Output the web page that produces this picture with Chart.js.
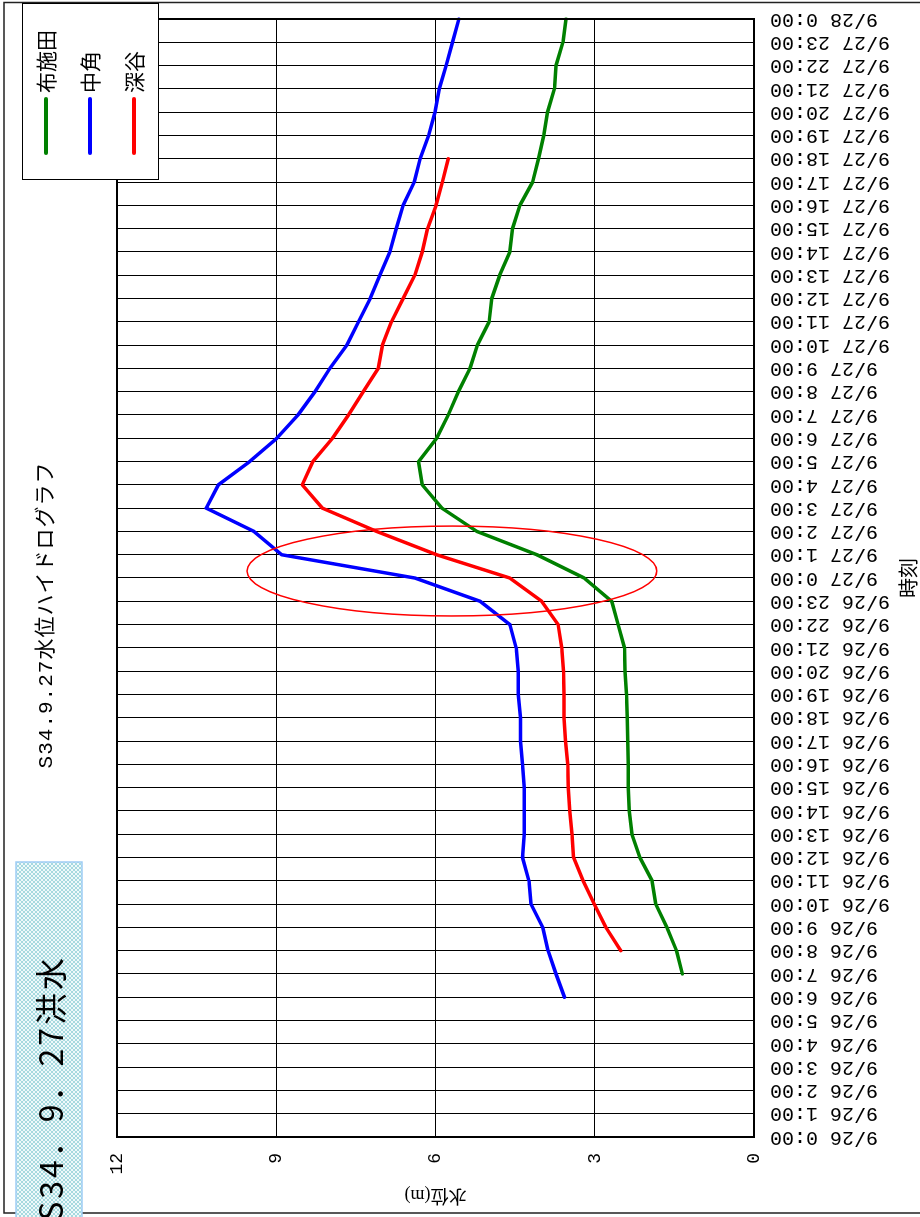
<!DOCTYPE html>
<html>
<head>
<meta charset="utf-8">
<script src="https://cdn.jsdelivr.net/npm/chart.js@4/dist/chart.umd.min.js"></script>
<style>
  html, body { margin: 0; padding: 0; background: #fff; overflow: hidden; width: 920px; height: 1217px; }
  /* the sheet is printed sideways: draw it landscape, then turn it a quarter left */
  #wrap { position: absolute; left: 0; top: 0; width: 1217px; height: 920px;
          transform-origin: 0 0; transform: translateY(1217px) rotate(-90deg); }
</style>
</head>
<body>
<div id="wrap"><canvas id="myChart" width="1217" height="920"></canvas></div>
<script>
const hours = [
  '9/26 0:00', '9/26 1:00', '9/26 2:00', '9/26 3:00', '9/26 4:00', '9/26 5:00',
  '9/26 6:00', '9/26 7:00', '9/26 8:00', '9/26 9:00', '9/26 10:00', '9/26 11:00',
  '9/26 12:00', '9/26 13:00', '9/26 14:00', '9/26 15:00', '9/26 16:00', '9/26 17:00',
  '9/26 18:00', '9/26 19:00', '9/26 20:00', '9/26 21:00', '9/26 22:00', '9/26 23:00',
  '9/27 0:00', '9/27 1:00', '9/27 2:00', '9/27 3:00', '9/27 4:00', '9/27 5:00',
  '9/27 6:00', '9/27 7:00', '9/27 8:00', '9/27 9:00', '9/27 10:00', '9/27 11:00',
  '9/27 12:00', '9/27 13:00', '9/27 14:00', '9/27 15:00', '9/27 16:00', '9/27 17:00',
  '9/27 18:00', '9/27 19:00', '9/27 20:00', '9/27 21:00', '9/27 22:00', '9/27 23:00',
  '9/28 0:00'
];

// 布施田
const fuseda = [
  null, null, null, null, null, null, null, 1.35, 1.46, 1.64, 1.85, 1.92,
  2.15, 2.30, 2.35, 2.37, 2.37, 2.38, 2.39, 2.40, 2.43, 2.44, 2.56, 2.68,
  3.20, 4.09, 5.22, 5.88, 6.25, 6.32, 5.98, 5.76, 5.57, 5.35, 5.21, 4.99,
  4.94, 4.79, 4.60, 4.55, 4.41, 4.17, 4.06, 3.96, 3.89, 3.76, 3.73, 3.60,
  3.54
];
// 中角
const nakasumi = [
  null, null, null, null, null, null, 3.57, 3.73, 3.88, 3.98, 4.20, 4.24,
  4.36, 4.33, 4.33, 4.33, 4.36, 4.40, 4.40, 4.44, 4.44, 4.48, 4.60, 5.16,
  6.39, 8.90, 9.42, 10.32, 10.09, 9.50, 8.99, 8.59, 8.27, 7.99, 7.67, 7.45,
  7.23, 7.05, 6.86, 6.74, 6.61, 6.40, 6.29, 6.13, 6.01, 5.93, 5.80, 5.68,
  5.56
];
// 深谷
const fukaya = [
  null, null, null, null, null, null, null, null, 2.51, 2.79, 3.01, 3.22,
  3.40, 3.43, 3.47, 3.50, 3.51, 3.55, 3.58, 3.58, 3.59, 3.62, 3.69, 4.00,
  4.60, 5.98, 7.11, 8.13, 8.51, 8.31, 7.94, 7.64, 7.36, 7.08, 7.00, 6.83,
  6.61, 6.39, 6.25, 6.15, 5.99, 5.87, 5.76, null, null, null, null, null,
  null
];

const levelTicks = [0, 3, 6, 9, 12];

// hand drawn ring round the peak (hour index, level, and radii in those units)
const ring = { hour: 24.3, level: 5.69, hourR: 1.93, levelR: 3.86 };

const serif = '"Liberation Serif", "Noto Sans CJK JP"';
const mono = '"Liberation Mono", "Noto Sans CJK JP"';

Chart.defaults.color = '#000';

// small cross hatch for the caption box
const hatch = document.createElement('canvas');
hatch.width = 4; hatch.height = 4;
(() => {
  const h = hatch.getContext('2d');
  h.fillStyle = '#eef9fa';
  h.fillRect(0, 0, 4, 4);
  h.fillStyle = '#a6d9df';
  for (let i = 0; i < 4; i++) {
    h.fillRect(i, i, 1, 1);
    h.fillRect(3 - i, i, 1, 1);
  }
})();

// text turned a quarter left on the page (reads bottom to top)
function upText(c, str, x, y, font, align, spacing) {
  c.save();
  c.translate(x, y);
  c.rotate(-Math.PI / 2);
  c.font = font;
  if (spacing) c.letterSpacing = spacing;
  c.fillStyle = '#000';
  c.textAlign = align;
  c.textBaseline = 'middle';
  c.fillText(str, 0, 0);
  c.restore();
}

const sheet = {
  id: 'sheet',
  afterDatasetsDraw(chart) {
    const c = chart.ctx, a = chart.chartArea;
    const x = chart.scales.x, y = chart.scales.y;
    c.save();
    c.strokeStyle = '#000';
    c.lineWidth = 2;
    c.strokeRect(a.left, a.top, a.right - a.left, a.bottom - a.top);

    const cx = x.getPixelForValue(ring.hour);
    const cy = y.getPixelForValue(ring.level);
    const rx = Math.abs(x.getPixelForValue(ring.hour + ring.hourR) - cx);
    const ry = Math.abs(y.getPixelForValue(ring.level + ring.levelR) - cy);
    c.beginPath();
    c.ellipse(cx, cy, rx, ry, 0, 0, Math.PI * 2);
    c.strokeStyle = '#ff0000';
    c.lineWidth = 1.5;
    c.stroke();
    c.restore();
  },
  afterDraw(chart) {
    const c = chart.ctx;
    c.save();
    // from here on draw in page (portrait) coordinates
    c.transform(0, 1, -1, 0, chart.width, 0);

    c.strokeStyle = '#222';
    c.lineWidth = 1.5;
    c.strokeRect(4, 2.5, 1000, 1210.5);

    // legend
    c.fillStyle = '#fff';
    c.fillRect(22, 3, 136, 177);
    c.strokeStyle = '#000';
    c.lineWidth = 1;
    c.strokeRect(22.5, 3.5, 136, 176);
    chart.data.datasets.forEach((ds, i) => {
      const lx = 46 + i * 44;
      c.beginPath();
      c.moveTo(lx, 99);
      c.lineTo(lx, 153);
      c.strokeStyle = ds.borderColor;
      c.lineWidth = 4;
      c.lineCap = 'round';
      c.stroke();
      upText(c, ds.label, lx, 93, '21px "Noto Sans CJK JP"', 'left');
    });

    // title
    upText(c, 'S34.9.27水位ハイドログラフ', 46, 615, '21px ' + mono, 'center', '1px');

    // caption box
    c.fillStyle = c.createPattern(hatch, 'repeat');
    c.fillRect(16, 862, 66, 370);
    c.strokeStyle = '#9fcdf5';
    c.lineWidth = 1.5;
    c.strokeRect(16, 862, 66, 370);
    upText(c, 'S34．9．27洪水', 51, 955, '32px "Noto Sans CJK JP"', 'right', '3px');

    c.restore();
  }
};

const ctx = document.getElementById('myChart');

new Chart(ctx, {
  type: 'line',
  data: {
    labels: hours,
    datasets: [
      { label: '布施田', data: fuseda, borderColor: '#008000' },
      { label: '中角', data: nakasumi, borderColor: '#0000ff' },
      { label: '深谷', data: fukaya, borderColor: '#ff0000' }
    ]
  },
  options: {
    responsive: false,
    animation: false,
    layout: { padding: { top: 117, right: 19, bottom: 0, left: 0 } },
    elements: {
      point: { radius: 0 },
      line: { tension: 0, borderWidth: 3.5, borderJoinStyle: 'round', borderCapStyle: 'round' }
    },
    plugins: { legend: { display: false }, tooltip: { enabled: false } },
    scales: {
      x: {
        type: 'category',
        offset: false,
        grid: { color: '#000', lineWidth: 1, drawTicks: false },
        border: { display: false },
        ticks: { autoSkip: false, minRotation: 90, maxRotation: 90, padding: 16,
                 font: { family: mono, size: 20 } },
        title: { display: true, text: '時刻', padding: 0,
                 font: { family: serif, size: 20, lineHeight: 0.9 } },
        afterFit(s) { s.height = 166; s.paddingLeft = 0; s.paddingRight = 0; }
      },
      y: {
        min: 0,
        max: 12,
        afterBuildTicks(s) { s.ticks = levelTicks.map(v => ({ value: v })); },
        grid: { color: '#000', lineWidth: 1, drawTicks: false },
        border: { display: false },
        ticks: { padding: 16, font: { family: mono, size: 18 } },
        title: { display: true, text: '水位(m)', padding: { top: 11, bottom: 0 },
                 font: { family: serif, size: 18 } },
        afterFit(s) { s.width = 80; s.paddingTop = 0; s.paddingBottom = 0; }
      }
    }
  },
  plugins: [sheet]
});
</script>
</body>
</html>
